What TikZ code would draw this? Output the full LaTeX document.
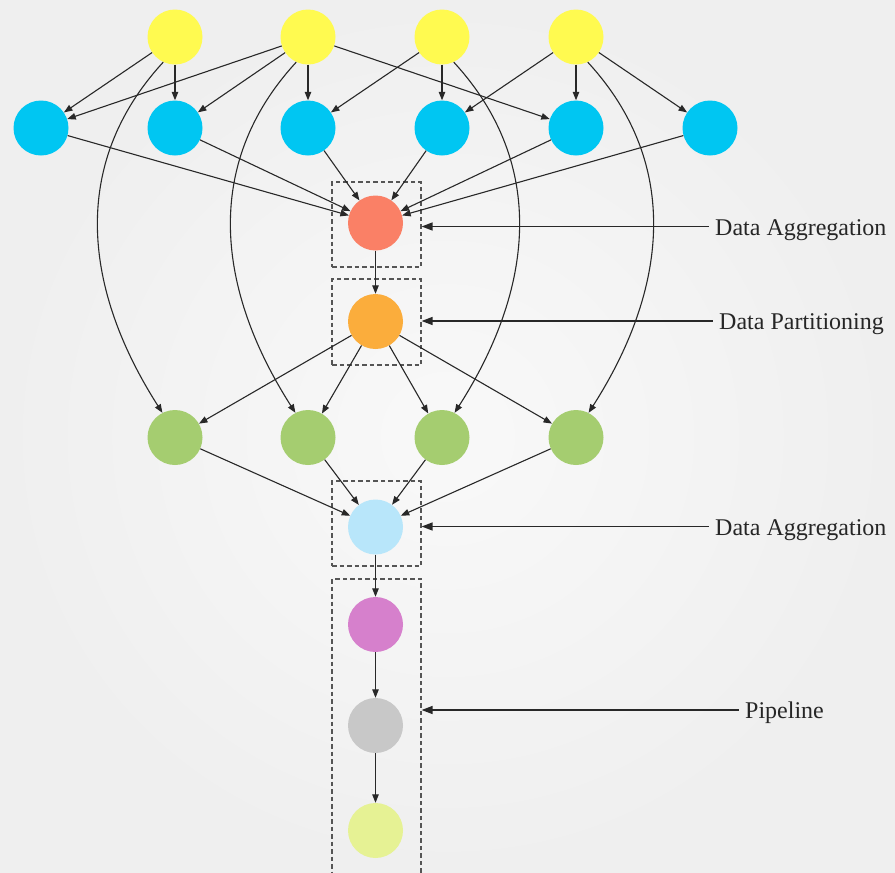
\documentclass[tikz,border=0pt]{standalone}
\usepackage{fontspec}
\setmainfont{Liberation Serif}
\usetikzlibrary{arrows.meta}

\definecolor{bgin}{RGB}{249,249,249}
\definecolor{bgout}{RGB}{239,239,239}
\definecolor{cyellow}{RGB}{255,250,80}
\definecolor{cblue}{RGB}{0,198,242}
\definecolor{csalmon}{RGB}{250,128,102}
\definecolor{corange}{RGB}{251,173,60}
\definecolor{cgreen}{RGB}{165,205,112}
\definecolor{clightblue}{RGB}{184,230,250}
\definecolor{cpurple}{RGB}{214,128,204}
\definecolor{cgray}{RGB}{200,200,200}
\definecolor{clime}{RGB}{230,242,148}
\definecolor{cline}{RGB}{40,40,40}
\definecolor{cdash}{RGB}{85,85,85}

\begin{document}
\begin{tikzpicture}[x=1pt,y=-1pt,
  dot/.style={circle,minimum size=55pt,inner sep=0pt,draw=none,fill=#1},
  edge/.style={draw=cline,line width=1.1pt,-{Triangle[length=8.5pt,width=6.5pt]}},
  labarrow/.style={draw=cline,line width=1.4pt,-{Triangle[length=11pt,width=8pt]}},
  dbox/.style={draw=cdash,line width=1.2pt,dash pattern=on 4.5pt off 3pt,inner sep=0pt},
  lab/.style={anchor=west,inner sep=0pt,inner xsep=6.5pt,text height=17pt,text depth=0pt,
    font=\fontsize{24}{28}\selectfont,text=black!85}]

% background
\shade[inner color=bgin,outer color=bgout] (0,0) rectangle (895,873);
\useasboundingbox (0,0) rectangle (895,873);

% source row
\node[dot=cyellow] (Y1) at (175,37) {};
\node[dot=cyellow] (Y2) at (308,37) {};
\node[dot=cyellow] (Y3) at (442,37) {};
\node[dot=cyellow] (Y4) at (576,37) {};

% second row
\node[dot=cblue] (B1) at (41,128) {};
\node[dot=cblue] (B2) at (175,128) {};
\node[dot=cblue] (B3) at (308,128) {};
\node[dot=cblue] (B4) at (442,128) {};
\node[dot=cblue] (B5) at (576,128) {};
\node[dot=cblue] (B6) at (710,128) {};

% central column
\node[dot=csalmon] (R) at (375.5,223) {};
\node[dot=corange] (O) at (375.5,321.5) {};
\node[dot=cgreen] (G1) at (175,437.5) {};
\node[dot=cgreen] (G2) at (308,437.5) {};
\node[dot=cgreen] (G3) at (442,437.5) {};
\node[dot=cgreen] (G4) at (576,437.5) {};
\node[dot=clightblue] (LB) at (375.5,527) {};
\node[dot=cpurple] (P) at (375.5,624.5) {};
\node[dot=cgray] (GR) at (375.5,725.5) {};
\node[dot=clime] (LY) at (375.5,830.5) {};

% dashed group frames
\node[dbox,minimum width=89pt,minimum height=85pt] (box1) at (376.5,224.5) {};
\node[dbox,minimum width=89pt,minimum height=86pt] (box2) at (376.5,322) {};
\node[dbox,minimum width=89pt,minimum height=85pt] (box3) at (376.5,523.5) {};
\node[dbox,minimum width=89pt,minimum height=302pt] (box4) at (376.5,730) {};

% top to second row
\draw[edge] (Y1) -- (B1);
\draw[edge] (Y1) -- (B2);
\draw[edge] (Y2) -- (B1);
\draw[edge] (Y2) -- (B2);
\draw[edge] (Y2) -- (B3);
\draw[edge] (Y2) -- (B5);
\draw[edge] (Y3) -- (B3);
\draw[edge] (Y3) -- (B4);
\draw[edge] (Y4) -- (B4);
\draw[edge] (Y4) -- (B5);
\draw[edge] (Y4) -- (B6);

% long bypass curves
\draw[edge] (Y1.-115) .. controls +(-95,103) and +(-78,-122) .. (G1.117);
\draw[edge] (Y2.-115) .. controls +(-95,103) and +(-78,-122) .. (G2.117);
\draw[edge] (Y3.-65) .. controls +(95,103) and +(78,-122) .. (G3.63);
\draw[edge] (Y4.-65) .. controls +(95,103) and +(78,-122) .. (G4.63);

% aggregation
\foreach \b in {B1,B2,B3,B4,B5,B6} \draw[edge] (\b) -- (R);
\draw[edge] (R) -- (O);
% partitioning
\foreach \g in {G1,G2,G3,G4} \draw[edge] (O) -- (\g);
\foreach \g in {G1,G2,G3,G4} \draw[edge] (\g) -- (LB);
% pipeline
\draw[edge] (LB) -- (P);
\draw[edge] (P) -- (GR);
\draw[edge] (GR) -- (LY);

% annotations
\node[lab] (L1) at (708.5,226.5) {Data Aggregation};
\node[lab] (L2) at (712.5,321) {Data Partitioning};
\node[lab] (L3) at (708.5,526.5) {Data Aggregation};
\node[lab] (L4) at (738.5,710) {Pipeline};
\draw[labarrow] (L1.west) -- (L1.west -| box1.east);
\draw[labarrow] (L2.west) -- (L2.west -| box2.east);
\draw[labarrow] (L3.west) -- (L3.west -| box3.east);
\draw[labarrow] (L4.west) -- (L4.west -| box4.east);
\end{tikzpicture}
\end{document}
